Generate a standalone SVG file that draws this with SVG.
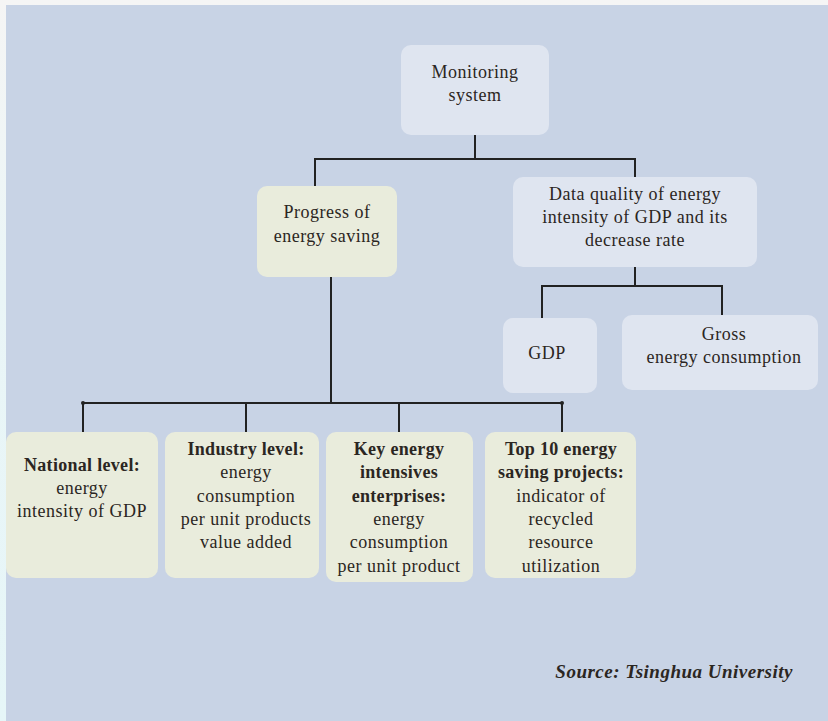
<svg xmlns="http://www.w3.org/2000/svg" width="828" height="721" viewBox="0 0 828 721">
<defs>
<linearGradient id="edge" x1="0" y1="0" x2="0" y2="1">
<stop offset="0" stop-color="#f5f5f5"/>
<stop offset="0.4" stop-color="#eaf5f7"/>
<stop offset="1" stop-color="#e6f6f8"/>
</linearGradient>
<style>
.blue{fill:#dfe5f0}
.green{fill:#e9ecdc}
text{font-family:"Liberation Serif","Times New Roman",serif;font-size:18px;letter-spacing:0.5px;fill:#2b2622;text-anchor:middle}
.b{font-weight:bold;letter-spacing:0.3px}
.src{font-weight:bold;font-style:italic;text-anchor:end;font-size:19px}
.ln{stroke:#222;stroke-width:2;fill:none}
</style>
</defs>
<rect x="0" y="0" width="828" height="721" fill="url(#edge)"/>
<rect x="6" y="5" width="822" height="716" fill="#c8d3e5"/>
<g id="connectors">
<path class="ln" d="M475 135V160M315 186V159H635V177"/>
<path class="ln" d="M635 267V286M542 318V286H722V315"/>
<path class="ln" d="M331 277V403M83 432V403H562V432M246 403V432M399 403V432"/>
<circle cx="83" cy="403" r="2" fill="#222"/>
<circle cx="562" cy="403" r="2" fill="#222"/>
</g>
<g id="monitoring">
<rect class="blue" x="401" y="45" width="148" height="90" rx="10"/>
<text x="475" y="78">Monitoring</text>
<text x="475" y="101">system</text>
</g>
<g id="progress">
<rect class="green" x="257" y="186" width="140" height="91" rx="10"/>
<text x="327" y="218">Progress of</text>
<text x="327" y="242">energy saving</text>
</g>
<g id="dataquality">
<rect class="blue" x="513" y="177" width="244" height="90" rx="10"/>
<text x="635" y="200">Data quality of energy</text>
<text x="635" y="223">intensity of GDP and its</text>
<text x="635" y="246">decrease rate</text>
</g>
<g id="gdp">
<rect class="blue" x="503" y="318" width="94" height="75" rx="10"/>
<text x="547" y="359">GDP</text>
</g>
<g id="gross">
<rect class="blue" x="622" y="315" width="196" height="75" rx="10"/>
<text x="724" y="340">Gross</text>
<text x="724" y="363">energy consumption</text>
</g>
<g id="national">
<rect class="green" x="6" y="432" width="152" height="146" rx="10"/>
<text class="b" x="82" y="471">National level:</text>
<text x="82" y="494">energy</text>
<text x="82" y="517">intensity of GDP</text>
</g>
<g id="industry">
<rect class="green" x="165" y="432" width="154" height="146" rx="10"/>
<text class="b" x="246" y="455">Industry level:</text>
<text x="246" y="478">energy</text>
<text x="246" y="502">consumption</text>
<text x="246" y="525">per unit products</text>
<text x="246" y="548">value added</text>
</g>
<g id="key">
<rect class="green" x="326" y="432" width="147" height="150" rx="10"/>
<text class="b" x="399" y="455">Key energy</text>
<text class="b" x="399" y="478">intensives</text>
<text class="b" x="399" y="502">enterprises:</text>
<text x="399" y="525">energy</text>
<text x="399" y="548">consumption</text>
<text x="399" y="572">per unit product</text>
</g>
<g id="top10">
<rect class="green" x="485" y="432" width="151" height="146" rx="10"/>
<text class="b" x="561" y="455">Top 10 energy</text>
<text class="b" x="561" y="478">saving projects:</text>
<text x="561" y="502">indicator of</text>
<text x="561" y="525">recycled</text>
<text x="561" y="548">resource</text>
<text x="561" y="572">utilization</text>
</g>
<text class="src" x="793" y="678">Source: Tsinghua University</text>
</svg>
